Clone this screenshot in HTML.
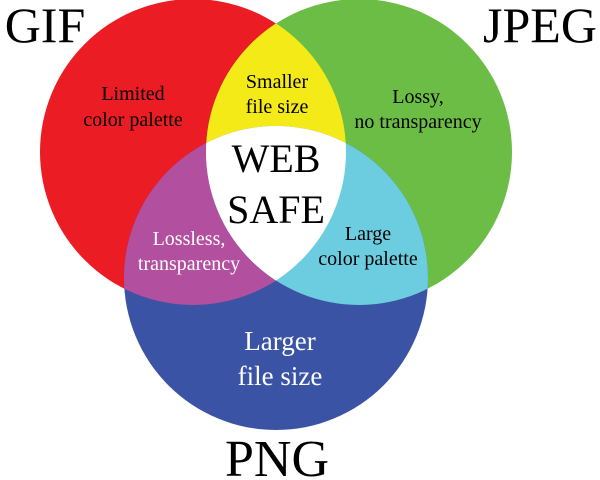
<!DOCTYPE html>
<html><head><meta charset="utf-8"><style>
html,body{margin:0;padding:0;background:#fff;}
svg{display:block;}
text{font-family:"Liberation Serif",serif;text-anchor:middle;}
</style></head><body>
<svg width="600" height="480" viewBox="0 0 600 480">
<defs>
<clipPath id="cr"><circle cx="193" cy="152" r="153"/></clipPath>
<clipPath id="cg"><circle cx="359" cy="152" r="153"/></clipPath>
</defs>
<circle cx="193" cy="152" r="153" fill="#ec1c24"/>
<circle cx="359" cy="152" r="153" fill="#6cbd45"/>
<circle cx="276" cy="278" r="152" fill="#3a53a4"/>
<g clip-path="url(#cr)"><circle cx="359" cy="152" r="153" fill="#f3ea17"/></g>
<g clip-path="url(#cr)"><circle cx="276" cy="278" r="152" fill="#b24f9f"/></g>
<g clip-path="url(#cg)"><circle cx="276" cy="278" r="152" fill="#6dcde0"/></g>
<g clip-path="url(#cr)"><g clip-path="url(#cg)"><circle cx="276" cy="278" r="152" fill="#fff"/></g></g>
<text x="45" y="42" font-size="50">GIF</text>
<text x="540" y="42" font-size="50">JPEG</text>
<text x="277" y="476" font-size="52">PNG</text>
<text x="133" y="100" font-size="20">Limited</text>
<text x="133" y="126" font-size="20">color palette</text>
<text x="277" y="88" font-size="20">Smaller</text>
<text x="277" y="113" font-size="20">file size</text>
<text x="418" y="103" font-size="20">Lossy,</text>
<text x="418" y="128" font-size="20">no transparency</text>
<text x="276" y="172" font-size="40">WEB</text>
<text x="276" y="223" font-size="40">SAFE</text>
<text x="189" y="245" font-size="20" fill="#fff">Lossless,</text>
<text x="189" y="270" font-size="20" fill="#fff">transparency</text>
<text x="368" y="240" font-size="20">Large</text>
<text x="368" y="265" font-size="20">color palette</text>
<text x="280" y="350" font-size="27" fill="#fff">Larger</text>
<text x="280" y="385" font-size="27" fill="#fff">file size</text>
</svg>
</body></html>
